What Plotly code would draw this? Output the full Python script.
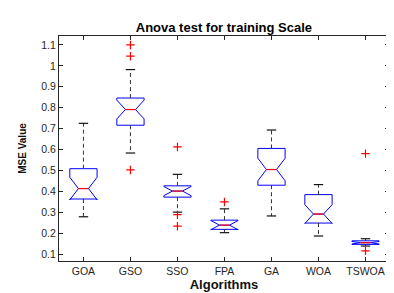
import plotly.graph_objects as go

categories = ["GOA", "GSO", "SSO", "FPA", "GA", "WOA", "TSWOA"]
q1 = [0.363, 0.716, 0.372, 0.218, 0.429, 0.248, 0.146]
median = [0.413, 0.791, 0.401, 0.238, 0.504, 0.291, 0.154]
q3 = [0.508, 0.846, 0.426, 0.262, 0.605, 0.384, 0.163]
lower_whisker = [0.278, 0.583, 0.300, 0.202, 0.282, 0.186, 0.138]
upper_whisker = [0.725, 0.982, 0.481, 0.316, 0.693, 0.432, 0.173]
notch_span = [0.054, 0.045, 0.022, 0.022, 0.054, 0.045, 0.006]
outliers = {
    "GSO": [1.100, 1.046, 0.502],
    "SSO": [0.612, 0.288, 0.233],
    "FPA": [0.349],
    "TSWOA": [0.580, 0.115],
}
y_ticks = [0.1, 0.2, 0.3, 0.4, 0.5, 0.6, 0.7, 0.8, 0.9, 1.0, 1.1]
y_tick_text = ["0.1", "0.2", "0.3", "0.4", "0.5", "0.6", "0.7", "0.8", "0.9", "1", "1.1"]

pos = list(range(len(categories)))
box_w = 0.58
notch_w = 0.315
cap_half = 0.1
med_half = box_w / 2 * (1 - 2 * notch_w)

fig = go.Figure()
fig.add_trace(go.Box(
    x=pos, q1=q1, median=median, q3=q3,
    lowerfence=q1, upperfence=q3,
    notched=True, notchspan=notch_span, notchwidth=notch_w,
    width=box_w, whiskerwidth=0,
    line=dict(color="#0000ff", width=1),
    fillcolor="rgba(0,0,0,0)",
    boxpoints=False, hoverinfo="skip", showlegend=False,
))

# whiskers (dashed)
wx, wy = [], []
for i in pos:
    wx += [i, i, None, i, i, None]
    wy += [q3[i], upper_whisker[i], None, q1[i], lower_whisker[i], None]
fig.add_trace(go.Scatter(x=wx, y=wy, mode="lines",
                         line=dict(color="#333333", width=1, dash="4px,3px"),
                         showlegend=False, hoverinfo="skip"))
# caps
cx, cy = [], []
for i in pos:
    cx += [i - cap_half, i + cap_half, None, i - cap_half, i + cap_half, None]
    cy += [upper_whisker[i], upper_whisker[i], None, lower_whisker[i], lower_whisker[i], None]
fig.add_trace(go.Scatter(x=cx, y=cy, mode="lines",
                         line=dict(color="#111111", width=1.2),
                         showlegend=False, hoverinfo="skip"))
# medians
mx, my = [], []
for i in pos:
    mx += [i - med_half, i + med_half, None]
    my += [median[i], median[i], None]
fig.add_trace(go.Scatter(x=mx, y=my, mode="lines",
                         line=dict(color="#ff0000", width=1.2),
                         showlegend=False, hoverinfo="skip"))
# outliers
ox, oy = [], []
for name, vals in outliers.items():
    i = categories.index(name)
    for v in vals:
        ox.append(i)
        oy.append(v)
fig.add_trace(go.Scatter(x=ox, y=oy, mode="markers",
                         marker=dict(symbol="cross-thin", size=6,
                                     line=dict(color="#ff0000", width=1.2)),
                         showlegend=False, hoverinfo="skip"))

fig.update_layout(
    width=394, height=293,
    margin=dict(l=51, r=13, t=28, b=31),
    paper_bgcolor="white", plot_bgcolor="white",
    font=dict(family="Liberation Sans, Arial, sans-serif", color="#262626"),
    title=dict(text="<b>Anova test for training Scale</b>", x=0.548, xanchor="center",
               y=0.935, yanchor="middle",
               font=dict(size=13, color="black")),
    xaxis=dict(range=[-0.52, 6.5], tickvals=pos, ticktext=categories,
               ticks="inside", ticklen=4, tickcolor="#262626",
               showline=True, linecolor="#262626", linewidth=1, mirror="ticks",
               showgrid=False, zeroline=False,
               tickfont=dict(size=10.5, color="#262626"),
               title=dict(text="<b>Algorithms</b>", standoff=3,
                          font=dict(size=13, color="#111111"))),
    yaxis=dict(range=[0.0665, 1.1427], tickvals=y_ticks, ticktext=y_tick_text,
               ticks="inside", ticklen=4, tickcolor="#262626",
               showline=True, linecolor="#262626", linewidth=1, mirror="ticks",
               showgrid=False, zeroline=False,
               tickfont=dict(size=10.5, color="#262626"),
               title=dict(text="<b>MSE Value</b>", standoff=12,
                          font=dict(size=10, color="#111111"))),
)

fig.write_html("out.html")
